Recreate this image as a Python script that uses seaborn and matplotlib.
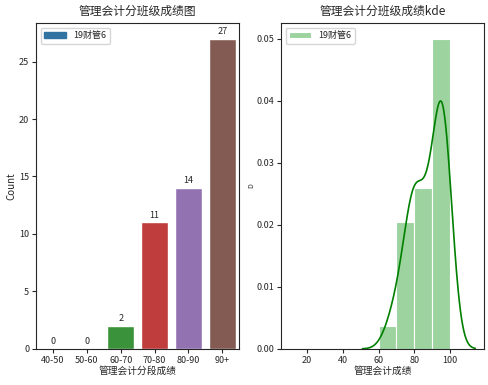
import matplotlib
matplotlib.use("Agg")
import matplotlib.pyplot as plt
import matplotlib.patches as mpatches
import pandas as pd
import seaborn as sns

# score bands and head counts (left chart)
bands = ["40-50", "50-60", "60-70", "70-80", "80-90", "90+"]
counts = [0, 0, 2, 11, 14, 27]

# individual scores (right chart), consistent with the band counts
scores = [65, 69,
          70, 72, 74, 75, 76, 77, 78, 78, 79, 79, 79,
          80, 80, 81, 82, 82, 83, 84, 85, 86, 86, 87, 88, 89, 89,
          90, 91, 92, 92, 93, 93, 94, 94, 94, 95, 95, 95, 95,
          96, 96, 96, 96, 97, 97, 97, 98, 98, 98, 99, 99, 100, 100]
bins = [60, 70, 80, 90, 100]
class_name = "19财管6"

sns.set_style("ticks")
plt.rcParams["font.family"] = ["Noto Sans CJK SC", "DejaVu Sans"]
plt.rcParams["axes.unicode_minus"] = False

fig = plt.figure(figsize=(4.89, 3.85), dpi=100)
ax1 = fig.add_axes([0.074, 0.094, 0.415, 0.846])
ax2 = fig.add_axes([0.575, 0.094, 0.415, 0.846])

df = pd.DataFrame({"band": bands, "count": counts})
sns.barplot(data=df, x="band", y="count", hue="band", palette="tab10",
            legend=False, ax=ax1)
for c in ax1.containers:
    ax1.bar_label(c, fontsize=6.5, padding=2)
blue = ax1.patches[0].get_facecolor()
ax1.legend(handles=[mpatches.Patch(color=blue)], labels=[class_name],
           loc="upper left", fontsize=6.5, handlelength=2.4)
ax1.set_ylim(0, 28.35)
ax1.set_title("管理会计分班级成绩图", fontsize=8.5)
ax1.set_xlabel("管理会计分段成绩", fontsize=7, labelpad=1)
ax1.set_ylabel("Count", fontsize=7, labelpad=2)
ax1.tick_params(labelsize=6.5, length=3, pad=2)

sns.histplot(x=scores, bins=bins, stat="density", color="#4caf50", alpha=0.55,
             edgecolor="white", linewidth=0.8, label=class_name, ax=ax2)
sns.kdeplot(x=scores, color="green", linewidth=1.2, cut=3, bw_adjust=1.12, ax=ax2)
ax2.legend(loc="upper left", fontsize=6.5, handlelength=2.4)
ax2.set_xlim(5.5, 119)
ax2.set_ylim(0, 0.0525)
ax2.set_yticks([0, 0.01, 0.02, 0.03, 0.04, 0.05])
ax2.set_xticks([20, 40, 60, 80, 100])
ax2.yaxis.set_major_formatter(matplotlib.ticker.FormatStrFormatter("%.2f"))
ax2.set_title("管理会计分班级成绩kde", fontsize=8.5)
ax2.set_xlabel("管理会计成绩", fontsize=7, labelpad=1)
ax2.set_ylabel("D", fontsize=5, labelpad=1)
ax2.tick_params(labelsize=6.5, length=3, pad=2)

fig.savefig("out.png", dpi=100)
